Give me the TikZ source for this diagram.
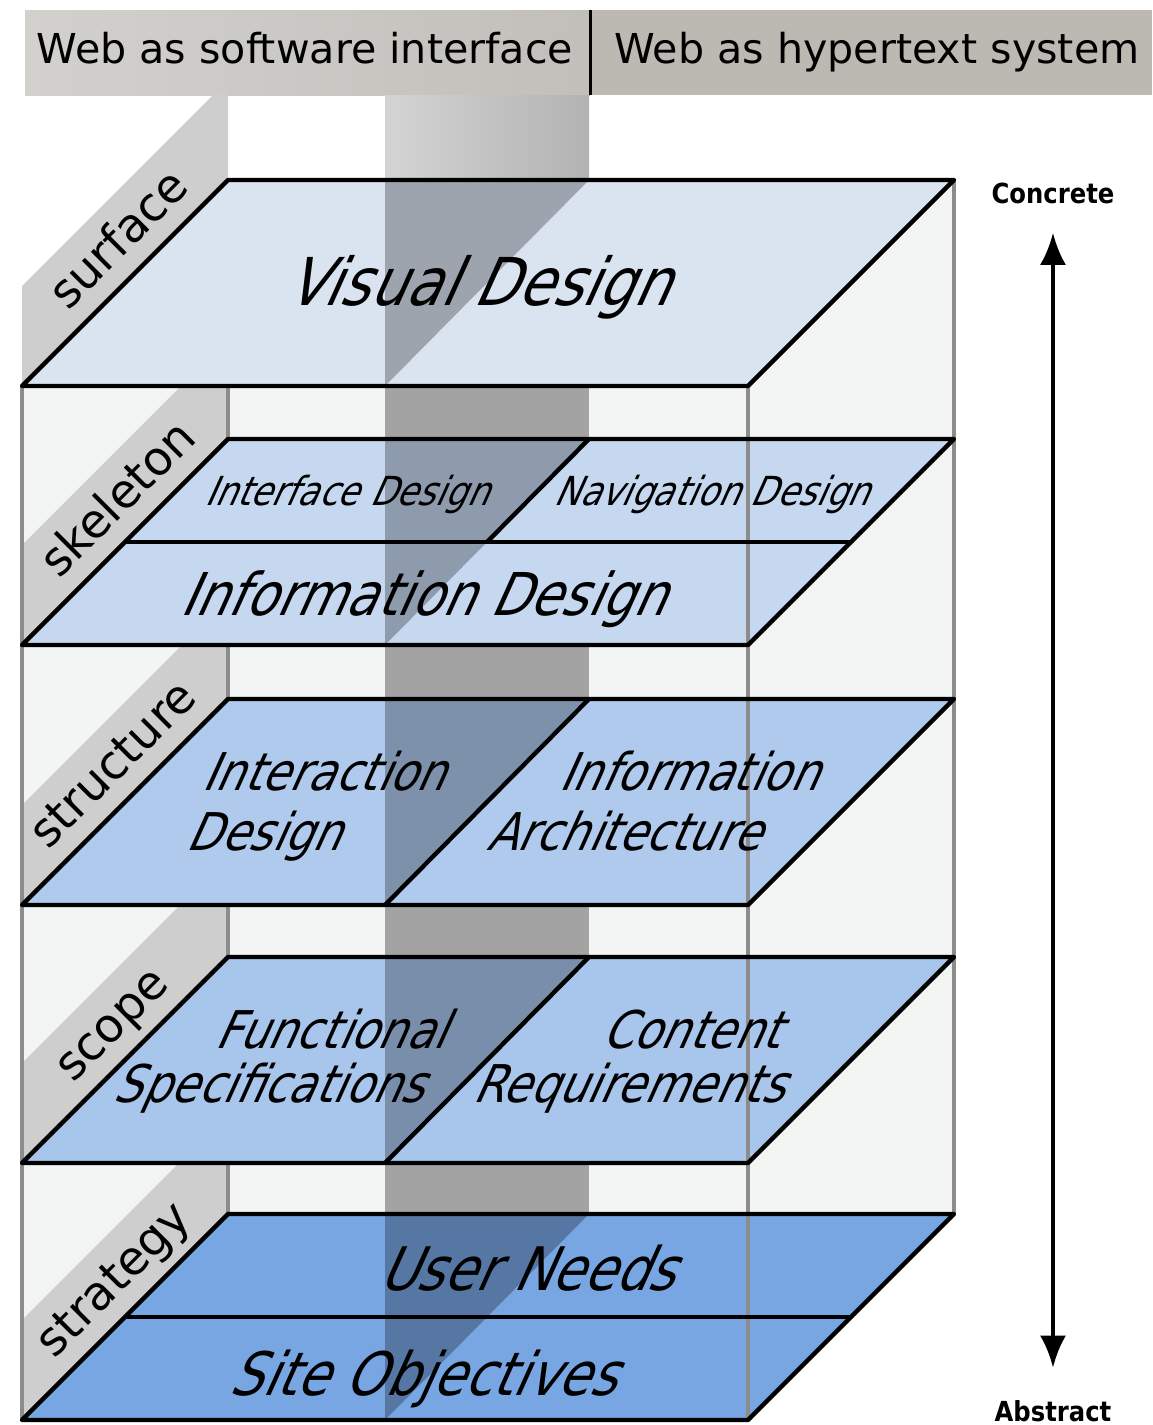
\documentclass[tikz,border=0pt]{standalone}
\usepackage{fontspec}
\setmainfont{DejaVu Sans}
\newfontfamily\planefont[FakeSlant=0.45,FakeStretch=0.86]{DejaVu Sans}
\newfontfamily\axisfont[FakeStretch=0.88]{DejaVu Sans}
\usetikzlibrary{arrows.meta}

\definecolor{headleft}{RGB}{210,209,206}
\definecolor{headmid}{RGB}{194,191,186}
\definecolor{headright}{RGB}{188,185,178}
\definecolor{boxface}{RGB}{243,244,244}
\definecolor{tabgray}{RGB}{206,206,206}
\definecolor{postgray}{RGB}{140,140,140}
\definecolor{colgray}{RGB}{163,163,163}
\definecolor{surfaceblue}{RGB}{218,228,241}
\definecolor{skeletonblue}{RGB}{197,216,240}
\definecolor{structureblue}{RGB}{176,202,237}
\definecolor{scopeblue}{RGB}{168,197,236}
\definecolor{strategyblue}{RGB}{120,166,226}

\tikzset{
  plane/.style={draw=black, line width=2.2pt, line join=round},
  post/.style={draw=postgray, line width=1.6pt},
  shadow/.style={fill=black, fill opacity=0.28},
  headlabel/.style={anchor=base, font=\fontsize{20.6}{20.6}\selectfont},
  tablabel/.style={rotate=45, anchor=base, font=\fontsize{23.5}{23.5}\selectfont},
  planelabel/.style={anchor=base, font=\planefont\fontsize{#1}{#1}\selectfont},
  planelabel/.default=26,
  axislabel/.style={anchor=base, inner sep=0pt, font=\axisfont\bfseries\fontsize{13.8}{13.8}\selectfont},
}

\begin{document}
\begin{tikzpicture}[x=0.5pt, y=-0.5pt]
	\useasboundingbox (0,0) rectangle (1152,1425);

	% Draw header
	\fill[left color=headleft, right color=headmid] (25,10) rectangle (590,95);
	\fill[headright] (590,10) rectangle (1152,95);
	\draw[line width=1.5pt] (590,10) -- (590,95);
	\node[headlabel] (software) at (305,63) {Web as software interface};
	\node[headlabel] (hypertext) at (877,63) {Web as hypertext system};

	% Draw box
	\fill[boxface] (22,386) -- (228,180) -- (954,180) -- (954,1214) -- (748,1420) -- (22,1420) -- cycle;

	% Draw tabs on the left face
	\foreach \F/\U in {386/95, 645/386, 905/645, 1163/905, 1420/1163} {
		\begin{scope}
			\clip (22,\U) rectangle (228,\F);
			\fill[tabgray] (22,\F) -- (228,\F-206) -- (228,\F-306) -- (22,\F-100) -- cycle;
		\end{scope}
	}

	% Draw column
	\fill[left color=black!17, right color=black!30] (385,95) rectangle (589,180);
	\fill[colgray] (385,180) rectangle (589,1420);

	% Draw back posts
	\draw[post] (228,180) -- (228,1214);
	\draw[post] (954,180) -- (954,1214);
	\draw[post] (22,386) -- (22,1420);

	% Draw planes
	\foreach \F/\col in {386/surfaceblue, 645/skeletonblue, 905/structureblue, 1163/scopeblue, 1420/strategyblue} {
		\fill[\col] (22,\F) -- (748,\F) -- (954,\F-206) -- (228,\F-206) -- cycle;
		\fill[shadow] (385,\F-206) -- (589,\F-206) -- (385,\F) -- cycle;
	}

	% Draw front post
	\draw[post] (748,386) -- (748,1420);

	% Draw plane edges
	\foreach \F in {386, 645, 905, 1163, 1420} {
		\draw[plane] (22,\F) -- (748,\F) -- (954,\F-206) -- (228,\F-206) -- cycle;
	}
	\draw[plane] (125,542) -- (851,542);
	\draw[plane] (487,542) -- (589,439);
	\draw[plane] (385,905) -- (589,699);
	\draw[plane] (385,1163) -- (589,957);
	\draw[plane] (125,1317) -- (851,1317);

	% Labels on the tabs
	\node[tablabel] (surface) at (130,250) {surface};
	\node[tablabel] (skeleton) at (129,510) {skeleton};
	\node[tablabel] (structure) at (124,775) {structure};
	\node[tablabel] (scope) at (122,1035) {scope};
	\node[tablabel] (strategy) at (124,1290) {strategy};

	% Labels on the planes
	\node[planelabel=33] (visual) at (477,305) {Visual Design};
	\node[planelabel=20] (interface) at (346,505) {Interface Design};
	\node[planelabel=20] (navigation) at (711,505) {Navigation Design};
	\node[planelabel=29.5] (infodesign) at (422,615) {Information Design};
	\node[planelabel] (interaction) at (323,790) {Interaction};
	\node[planelabel] (interdesign) at (263,850) {Design};
	\node[planelabel] (information) at (688,790) {Information};
	\node[planelabel] (architecture) at (623,850) {Architecture};
	\node[planelabel] (functional) at (330,1048) {Functional};
	\node[planelabel] (specifications) at (268,1102) {Specifications};
	\node[planelabel] (content) at (690,1048) {Content};
	\node[planelabel] (requirements) at (628,1102) {Requirements};
	\node[planelabel=30] (userneeds) at (526,1290) {User Needs};
	\node[planelabel=30] (siteobjectives) at (422,1395) {Site Objectives};

	% Draw concrete to abstract axis
	\node[axislabel] (concrete) at (1053,203) {Concrete};
	\node[axislabel] (abstract) at (1053,1421) {Abstract};
	\draw[{Latex[length=16pt,width=13pt]}-{Latex[length=16pt,width=13pt]}, line width=2pt, shorten <=14.5pt, shorten >=16pt] (concrete.south) -- (abstract.north);
\end{tikzpicture}
\end{document}
